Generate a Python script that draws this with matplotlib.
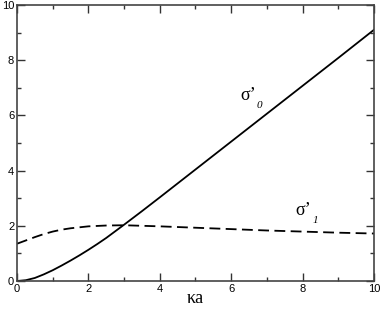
import numpy as np
import matplotlib
matplotlib.use("Agg")
import matplotlib.pyplot as plt
from matplotlib.ticker import MultipleLocator

# sigma'_0 (solid)
ka0 = [0.0, 0.25, 0.5, 0.75, 1.0, 1.25, 1.5, 1.75, 2.0, 2.25, 2.5, 2.75, 3.0, 3.5, 4.0, 5.0, 6.0, 7.0, 8.0, 9.0, 10.0]
s0 = [0.0, 0.03, 0.11, 0.24, 0.39, 0.56, 0.74, 0.93, 1.13, 1.34, 1.56, 1.80, 2.04, 2.53, 3.03, 4.04, 5.05, 6.06, 7.07, 8.08, 9.1]

# sigma'_1 (dashed)
ka1 = [0.0, 0.25, 0.5, 0.75, 1.0, 1.25, 1.5, 2.0, 2.5, 3.0, 3.5, 4.0, 5.0, 6.0, 7.0, 8.0, 9.0, 10.0]
s1 = [1.35, 1.47, 1.59, 1.70, 1.79, 1.86, 1.91, 1.98, 2.01, 2.02, 2.00, 1.98, 1.93, 1.88, 1.83, 1.79, 1.75, 1.72]

fig = plt.figure(figsize=(3.82, 3.09), dpi=100)
ax = fig.add_axes([0.0445, 0.0906, 0.9345, 0.8934])

ax.plot(ka0, s0, color="black", lw=1.3)
ax.plot(ka1, s1, color="black", lw=1.3, dashes=(6, 3))

ax.set_xlim(0, 10)
ax.set_ylim(0, 10)
ax.xaxis.set_major_locator(MultipleLocator(2))
ax.xaxis.set_minor_locator(MultipleLocator(1))
ax.yaxis.set_major_locator(MultipleLocator(2))
ax.yaxis.set_minor_locator(MultipleLocator(1))
ax.tick_params(which="both", direction="in", top=True, right=True,
               labelsize=8, pad=2, width=1, colors="#333333", labelcolor="black")
ax.tick_params(which="major", length=6)
ax.tick_params(which="minor", length=3)
for lab in ax.get_xticklabels() + ax.get_yticklabels():
    lab.set_fontfamily("Liberation Sans")
for sp in ax.spines.values():
    sp.set_linewidth(1.2)
    sp.set_color("#444444")

ax.set_xlabel("κa", fontfamily="Liberation Serif", fontsize=13, labelpad=-3)

ax.text(6.25, 6.55, "σ’", fontfamily="Liberation Serif", fontsize=13, ha="left", va="baseline")
ax.text(6.72, 6.25, "0", fontfamily="Liberation Serif", style="italic", fontsize=8, ha="left", va="baseline")
ax.text(7.8, 2.4, "σ’", fontfamily="Liberation Serif", fontsize=13, ha="left", va="baseline")
ax.text(8.27, 2.1, "1", fontfamily="Liberation Serif", style="italic", fontsize=8, ha="left", va="baseline")

fig.savefig("out.png", dpi=100)
